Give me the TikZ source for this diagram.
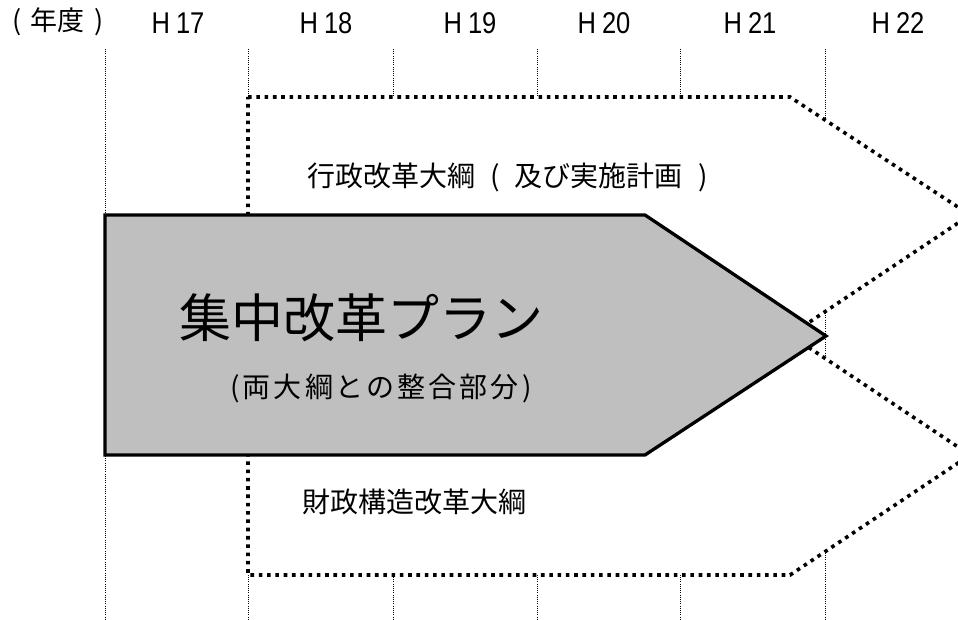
\documentclass[tikz,border=0pt]{standalone}
\usepackage{fontspec}
\setmainfont{Noto Sans CJK JP}
\newfontfamily\latinhdr[FakeStretch=0.85]{Liberation Sans}
\newcommand\cw[2]{\makebox[#1][c]{#2}}
\tikzset{
  gridline/.style={line width=1pt, dash pattern=on 1pt off 1.2pt, black},
  framebox/.style={line width=3.6pt, dash pattern=on 3.6pt off 4.7pt, fill=white, line join=miter},
  planarrow/.style={line width=3.3pt, fill=black!25, line join=miter},
  hdr/.style={font=\fontsize{27}{30}\selectfont, inner sep=0pt, anchor=center},
  yr/.style={font=\latinhdr\fontsize{30}{34}\selectfont, inner sep=0pt, anchor=center},
  lbl/.style={font=\fontsize{28}{32}\selectfont, inner sep=0pt, anchor=center},
}
\begin{document}
\begin{tikzpicture}[x=1pt,y=-1pt]
\useasboundingbox (0,0) rectangle (958,620);
\clip (0,0) rectangle (958,620);
% header
\node[hdr] (year) at (58,22) {\cw{28pt}{(}年度\cw{28pt}{)}};
\node[yr] (h17) at (178,23) {H\hspace{6pt}17};
\node[yr] (h18) at (326,23) {H\hspace{6pt}18};
\node[yr] (h19) at (470,23) {H\hspace{6pt}19};
\node[yr] (h20) at (604,23) {H\hspace{6pt}20};
\node[yr] (h21) at (750,23) {H\hspace{6pt}21};
\node[yr] (h22) at (898,23) {H\hspace{6pt}22};
% grid lines
\foreach \x/\n in {105/a,248/b,393/c,537/d,680/e,825/f}{
  \coordinate (t\n) at (\x,49);
  \coordinate (b\n) at (\x,620);
  \draw[gridline] (t\n) -- (b\n);
}
% frames
\coordinate (u1) at (248,97);
\coordinate (u2) at (790,97);
\coordinate (u3) at (970,215);
\coordinate (u4) at (790,335);
\coordinate (u5) at (248,335);
\draw[framebox] (u1) -- (u2) -- (u3) -- (u4) -- (u5) -- cycle;
\coordinate (l1) at (248,335);
\coordinate (l2) at (790,335);
\coordinate (l3) at (970,455);
\coordinate (l4) at (790,575);
\coordinate (l5) at (248,575);
\draw[framebox] (l1) -- (l2) -- (l3) -- (l4) -- (l5) -- cycle;
% main arrow
\coordinate (p1) at (105,215);
\coordinate (p2) at (645,215);
\coordinate (p3) at (826,336);
\coordinate (p4) at (645,455);
\coordinate (p5) at (105,455);
\draw[planarrow] (p1) -- (p2) -- (p3) -- (p4) -- (p5) -- cycle;
% texts
\node[lbl] (gyosei) at (515,177) {行政改革大綱\cw{40pt}{(}及び実施計画\cw{40pt}{)}};
\node[lbl] (zaisei) at (414,502) {財政構造改革大綱};
\node[font=\fontsize{52}{60}\selectfont, inner sep=0pt] (shuchu) at (361,318) {集中改革プラン};
\node[font=\fontsize{28}{32}\selectfont, inner sep=0pt] (sub) at (381,388) {\cw{13pt}{(}\cw{31pt}{両}\cw{31pt}{大}\cw{31pt}{綱}\cw{31pt}{と}\cw{31pt}{の}\cw{31pt}{整}\cw{31pt}{合}\cw{31pt}{部}\cw{31pt}{分}\cw{13pt}{)}};
\end{tikzpicture}
\end{document}
